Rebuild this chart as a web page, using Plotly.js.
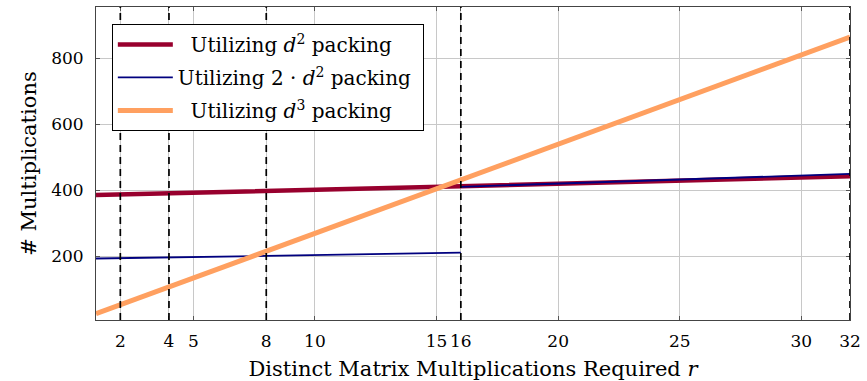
<!DOCTYPE html>
<html>
<head>
<meta charset="utf-8">
<script src="https://cdn.plot.ly/plotly-3.0.1.min.js"></script>
<style>html,body{margin:0;padding:0;background:#fff;}#chart{width:867px;height:381px;}</style>
</head>
<body>
<div id="chart"></div>
<script>
// Data
const rD2 = [1, 2, 4, 8, 16, 32];
const yD2 = [386, 388, 391, 399, 413, 443];

const r2D2 = [1, 2, 4, 8, 16, null, 16, 32];
const y2D2 = [194, 195, 197, 202, 212, null, 411, 450];

const rD3 = [1, 2, 4, 8, 16, 32];
const yD3 = [27, 54, 108, 216, 432, 864];

const markerR = [2, 4, 8, 16, 32];
const xTicks = [2, 4, 5, 8, 10, 15, 16, 20, 25, 30, 32];
const yTicks = [200, 400, 600, 800];

const names = [
  '&nbsp;&nbsp;Utilizing <i>d</i><sup>2</sup> packing',
  'Utilizing 2 · <i>d</i><sup>2</sup> packing&nbsp;',
  '&nbsp;&nbsp;Utilizing <i>d</i><sup>3</sup> packing'
];

const font = 'DejaVu Serif, Liberation Serif, serif';

const traces = [
  {x: rD2, y: yD2, mode: 'lines', name: names[0], legendgroup: 'a',
   line: {color: '#98002e', width: 4.5}},
  {x: r2D2, y: y2D2, mode: 'lines', name: names[1], legendgroup: 'b', connectgaps: false,
   line: {color: '#00007f', width: 1.8}},
  {x: rD3, y: yD3, mode: 'lines', name: names[2], legendgroup: 'c',
   line: {color: '#ffa060', width: 5}}
];

const shapes = markerR.map(r => ({
  type: 'line', xref: 'x', yref: 'paper', x0: r, x1: r, y0: 0, y1: 1,
  layer: 'above', line: {color: '#000', width: 1.7, dash: '7px,5px'}
}));

const axisCommon = {
  showline: true, linecolor: '#444', linewidth: 1, mirror: 'allticks',
  ticks: 'inside', ticklen: 4, tickcolor: '#555', tickwidth: 1,
  showgrid: true, gridcolor: '#c8c8c8', gridwidth: 1, zeroline: false,
  tickangle: 0,
  tickfont: {family: font, size: 17, color: '#000'}
};

const layout = {
  width: 867, height: 381,
  margin: {l: 96, r: 17, t: 7, b: 61},
  paper_bgcolor: '#fff', plot_bgcolor: '#fff',
  font: {family: font, color: '#000'},
  xaxis: Object.assign({}, axisCommon, {
    range: [1, 32], tickvals: xTicks, ticktext: xTicks.map(String),
    ticklabelstandoff: 6,
    title: {text: 'Distinct Matrix Multiplications Required <i>r</i>', font: {family: font, size: 21}, standoff: 10}
  }),
  yaxis: Object.assign({}, axisCommon, {
    range: [8, 955], tickvals: yTicks, ticktext: yTicks.map(String),
    ticklabelstandoff: 8,
    title: {text: '# Multiplications', font: {family: font, size: 21}, standoff: 8}
  }),
  shapes: shapes,
  showlegend: true,
  legend: {
    x: 0.021, y: 0.946, xanchor: 'left', yanchor: 'top',
    bgcolor: '#fff', bordercolor: '#000', borderwidth: 1,
    font: {family: font, size: 20, color: '#000'},
    traceorder: 'grouped', tracegroupgap: 4, itemwidth: 55
  }
};

Plotly.newPlot('chart', traces, layout, {displayModeBar: false, staticPlot: true});
</script>
</body>
</html>
